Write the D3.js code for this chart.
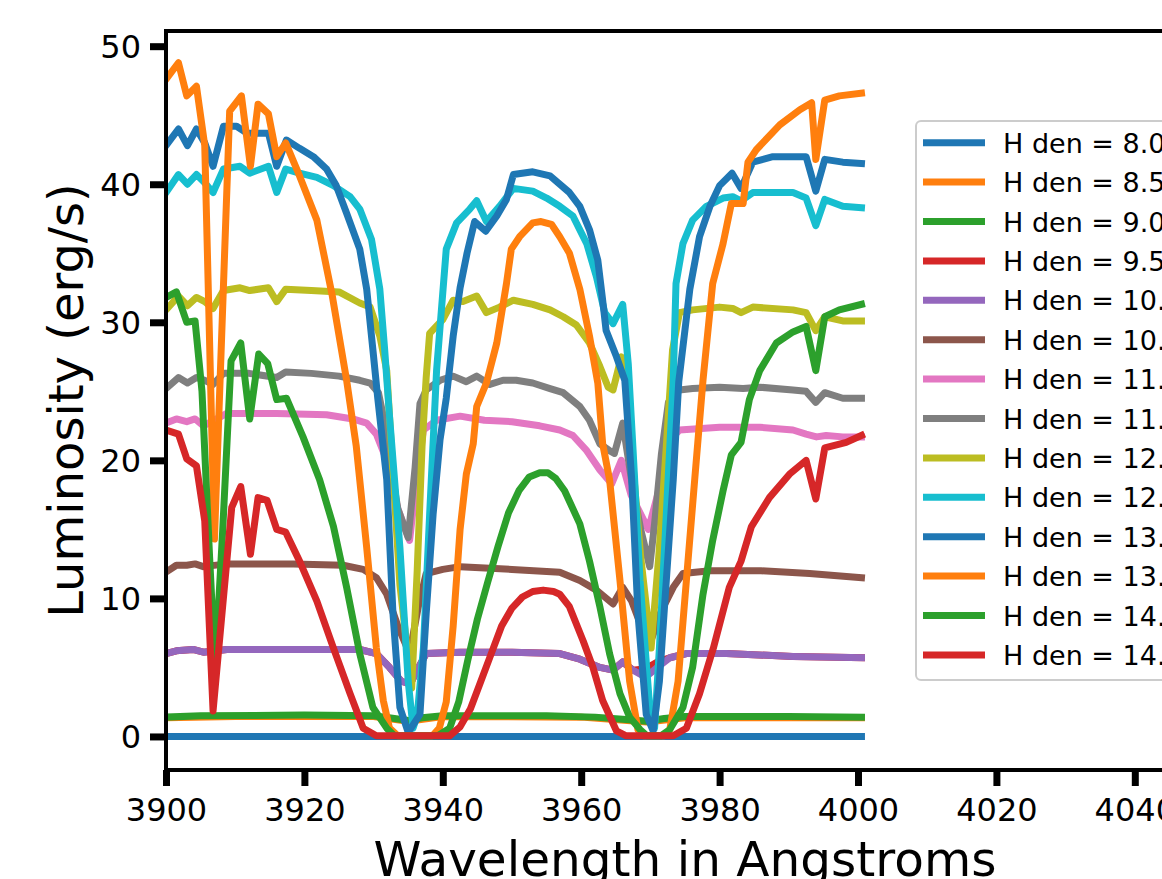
<!DOCTYPE html>
<html>
<head>
<meta charset="utf-8">
<script src="https://cdn.jsdelivr.net/npm/d3@7"></script>
<style>
  html,body{margin:0;padding:0;background:#fff;overflow:hidden;}
  svg{display:block;font-family:"DejaVu Sans",sans-serif;}
</style>
</head>
<body>
<svg id="chart" width="1162" height="879"></svg>
<script>
/*  Luminosity vs wavelength for a sweep of hydrogen densities (Ca H & K region).
    Each series: [wavelength (Å), luminosity (erg/s)].   */

/*────────── data ──────────*/
const densities = ["8.0","8.5","9.0","9.5","10.0","10.5","11.0","11.5","12.0","12.5","13.0","13.5","14.0","14.5"];

const hden80 = [[3900,0],[3950,0],[4000.5,0]];

const hden85 = [[3900,1.35],[3910,1.45],[3930,1.45],[3935,1.1],[3940,1.45],[3960,1.4],
  [3969.5,1.05],[3975,1.35],[4000.5,1.35]];

const hden90 = [[3900,1.4],[3905,1.5],[3920,1.55],[3930,1.5],[3933,1.3],[3935,1.15],[3937,1.35],
  [3940,1.5],[3955,1.5],[3962,1.4],[3966,1.25],[3969.5,1.1],[3972,1.3],[3975,1.45],[3990,1.45],[4000.5,1.4]];

const hden95 = [[3900,6.0],[3901.5,6.2],[3903.9,6.3],[3905.4,6.1],[3908.8,6.3],[3928,6.3],[3930.4,6.0],
  [3932.3,5.0],[3934,4.0],[3935.3,3.8],[3936.5,5.0],[3937.6,6.0],[3942.5,6.1],[3950,6.1],[3956.9,6.0],
  [3959.8,5.6],[3962.7,5.0],[3964.6,4.8],[3966,5.4],[3967.5,4.8],[3969.3,4.9],[3971,5.4],[3972.8,5.7],
  [3975.2,6.0],[3981,6.0],[3990.6,5.8],[4000.5,5.7]];

const hden100 = [[3900,6.0],[3901.5,6.2],[3903.9,6.3],[3905.4,6.1],[3908.8,6.3],[3928,6.3],[3930.4,6.0],
  [3932.3,5.0],[3934,4.0],[3935.3,3.8],[3936.5,5.0],[3937.6,6.0],[3942.5,6.1],[3950,6.1],[3956.9,6.0],
  [3959.8,5.6],[3962.7,5.0],[3964.6,4.8],[3966,5.4],[3967.5,4.8],[3969.3,4.3],[3971,5.0],[3972.8,5.7],
  [3975.2,6.0],[3981,6.0],[3990.6,5.8],[4000.5,5.7]];

const hden105 = [[3900,11.9],[3901.5,12.4],[3903,12.4],[3904.2,12.5],[3905.4,12.3],[3908.8,12.5],
  [3918.4,12.5],[3925.6,12.4],[3928.5,12.1],[3930.4,11.5],[3931.9,10.3],[3933.5,8.0],[3935.2,6.0],
  [3936.5,9.5],[3937.6,11.8],[3940,12.1],[3942.5,12.3],[3950,12.1],[3956.9,11.9],[3959.8,11.3],
  [3962.2,10.6],[3964.6,9.6],[3966,10.8],[3967.3,9.8],[3969.8,6.5],[3971.5,9.0],[3973.3,10.8],
  [3974.7,11.8],[3978.6,12.0],[3986,12.0],[3993,11.8],[4000.5,11.5]];

const hden110 = [[3900,22.7],[3901.5,23.0],[3903,22.8],[3904.2,23.0],[3905.4,22.5],[3908.8,23.4],
  [3916,23.4],[3923.2,23.3],[3927,23.0],[3929,22.7],[3930.4,21.9],[3931.9,20.0],[3933.5,16.5],
  [3935.2,14.2],[3936.2,18.6],[3937.2,22.2],[3939.1,22.9],[3942.5,23.2],[3946,22.9],[3950,22.8],
  [3954,22.5],[3956.9,22.2],[3958.8,21.8],[3960.8,20.7],[3962.7,19.3],[3964.4,18.3],[3965.8,20.0],
  [3967.2,17.5],[3969.7,15.0],[3971.2,17.8],[3972.5,21.3],[3974.2,22.2],[3980,22.4],[3985.8,22.4],
  [3990.6,22.2],[3992.5,21.9],[3994,21.7],[3995.4,21.8],[3997.8,21.7],[4000.5,21.7]];

const hden115 = [[3900,25.2],[3901.8,26.0],[3903.1,25.6],[3904.4,26.0],[3905.6,25.8],[3906.8,25.5],
  [3908.3,26.3],[3912,26.3],[3916,26.0],[3917.3,26.4],[3921,26.3],[3925,26.1],[3928,25.8],[3929.5,25.6],
  [3930.7,24.9],[3931.4,23.2],[3932.1,20.7],[3933.5,16.5],[3935,14.4],[3936,19.5],[3936.7,24.1],
  [3937.6,25.1],[3939.6,25.8],[3941.5,26.1],[3943.4,25.7],[3944.9,26.1],[3946.8,25.5],[3948.7,25.8],
  [3950.6,25.8],[3953,25.6],[3955.5,25.2],[3957.4,24.9],[3959.8,23.9],[3961.2,22.9],[3962.7,21.2],
  [3964.1,20.7],[3964.8,20.5],[3966,22.7],[3967.3,18.5],[3968.6,15.0],[3969.9,12.3],[3970.6,15.4],
  [3971.6,20.5],[3972.6,24.2],[3974.2,25.1],[3976.1,25.2],[3980,25.3],[3983.4,25.2],[3985.8,25.3],
  [3990.6,25.1],[3992.5,25.0],[3993.9,24.2],[3995.2,24.9],[3997.8,24.5],[4000.5,24.5]];

const hden120 = [[3900,30.9],[3901.8,31.9],[3903.1,31.2],[3904.4,31.8],[3905.6,31.5],[3906.8,31.0],
  [3908.3,32.3],[3910.7,32.5],[3912.1,32.3],[3914.8,32.5],[3916,31.5],[3917.3,32.4],[3921,32.3],
  [3925,32.2],[3928,31.4],[3929.5,31.1],[3930.9,29.0],[3931.9,26.5],[3932.6,20.7],[3933.8,11.0],
  [3935.5,3.5],[3936.3,12.0],[3937,21.0],[3937.6,26.0],[3938.1,29.2],[3940,30.2],[3941.5,31.6],
  [3942.9,31.5],[3944.9,31.9],[3946.3,30.7],[3948.2,31.1],[3950.2,31.6],[3953,31.3],[3955.5,30.9],
  [3957.4,30.4],[3959.3,29.8],[3961.2,28.5],[3962.7,26.8],[3963.9,25.3],[3964.6,25.1],[3965.8,27.5],
  [3966.5,25.6],[3967.3,20.7],[3968.6,13.0],[3970.1,6.4],[3971.2,13.0],[3972.3,21.0],[3973.2,28.0],
  [3974.2,30.7],[3976.1,30.9],[3980,31.1],[3981.9,31.0],[3983.1,30.7],[3984.8,31.1],[3990.6,30.9],
  [3992.5,30.7],[3993.9,29.4],[3995.2,30.4],[3997.8,30.1],[4000.5,30.1]];

const hden125 = [[3900,39.4],[3901.8,40.7],[3903.1,40.0],[3904.4,40.7],[3905.6,40.1],[3906.8,39.4],
  [3908.3,41.1],[3910.7,41.3],[3912.1,40.8],[3914.8,41.3],[3916,39.4],[3917.3,41.1],[3919.3,40.8],
  [3921.8,40.5],[3924.2,39.9],[3926.6,39.1],[3928,38.2],[3929.7,36.0],[3930.9,32.4],[3931.6,28.0],
  [3932.3,23.2],[3933.8,13.7],[3935,4.0],[3935.7,0.6],[3936.3,1.5],[3937.2,6.4],[3938.1,16.1],
  [3939.1,26.5],[3940.5,35.3],[3942,37.2],[3943.9,38.2],[3944.9,38.8],[3946.3,37.3],[3948.2,38.4],
  [3950.2,39.7],[3953,39.5],[3955,39.0],[3956.9,38.4],[3958.8,37.7],[3960.8,35.7],[3962.2,33.3],
  [3963.4,30.7],[3964.6,29.9],[3966,31.3],[3966.8,27.0],[3967.5,20.7],[3968.5,11.3],[3969.9,2.1],
  [3970.6,0.6],[3971.3,6.4],[3972.3,16.1],[3973.3,25.8],[3973.7,32.8],[3974.7,35.7],[3976.1,37.4],
  [3978.1,38.4],[3980.5,39.0],[3981.9,39.1],[3983.1,38.8],[3984.8,39.4],[3990.6,39.4],[3992.5,39.0],
  [3993.9,37.0],[3995.2,38.9],[3997.8,38.4],[4000.5,38.3]];

const hden130 = [[3900,42.8],[3901.8,44.0],[3903.1,42.8],[3904.4,44.0],[3905.6,43.0],[3906.8,41.3],
  [3908.3,44.2],[3910.2,44.2],[3911.7,43.7],[3914.8,43.7],[3916,41.3],[3917.4,43.2],[3919.3,42.6],
  [3921.3,42.0],[3923.2,41.1],[3924.6,39.9],[3926.1,37.9],[3928,35.3],[3929,32.4],[3929.9,28.0],
  [3930.6,24.5],[3931.9,18.6],[3932.8,8.9],[3933.8,2.1],[3935,0.3],[3936.7,1.6],[3937.6,8.9],
  [3938.6,16.1],[3939.6,21.5],[3940.5,24.5],[3941.5,29.0],[3942.5,32.5],[3943.5,35.0],[3944.6,37.3],
  [3946.2,36.6],[3947.8,37.7],[3949.2,38.9],[3950.2,40.7],[3953,40.9],[3955.5,40.6],[3958.3,39.4],
  [3959.8,38.4],[3961.2,36.7],[3962.4,34.5],[3963.1,31.6],[3963.6,29.4],[3965.1,27.5],[3966.3,25.8],
  [3967.3,18.6],[3968.2,8.9],[3969.4,1.6],[3970.4,0.4],[3971.3,4.0],[3972.3,11.3],[3973.3,18.6],
  [3974.1,25.7],[3975.7,32.4],[3977.1,36.2],[3978.6,38.4],[3980,39.9],[3981.8,40.8],[3983.1,39.7],
  [3984.8,41.6],[3987.7,42.0],[3992.5,42.0],[3993.9,39.5],[3995.2,41.8],[3997.8,41.6],[4000.5,41.5]];

const hden135 = [[3900,47.6],[3901.8,48.8],[3903,46.4],[3904.4,47.1],[3905.6,42.8],[3907,14.3],
  [3909.2,45.3],[3910.9,46.4],[3912.2,41.3],[3913.3,45.8],[3914.8,45.1],[3916,42.0],[3917.3,43.0],
  [3919.3,40.6],[3921.8,37.4],[3924,32.0],[3926.1,25.8],[3927.5,21.0],[3929,13.7],[3930.4,6.4],
  [3931.4,2.6],[3932.3,0.6],[3933.5,0.05],[3938.5,0.05],[3939.5,0.6],[3940.5,2.5],[3941.5,8.0],
  [3942.5,15.0],[3943.4,19.0],[3944.4,21.2],[3944.9,23.9],[3946.3,25.6],[3947.8,28.5],[3949.2,32.8],
  [3949.9,35.3],[3951.1,36.2],[3953,37.2],[3954.2,37.3],[3955.7,37.1],[3956.9,36.2],[3958.3,35.0],
  [3959.8,32.4],[3961.2,29.0],[3962.4,25.6],[3963.1,21.2],[3964.1,18.6],[3965.6,11.3],[3967,4.0],
  [3968.2,0.5],[3969,0.05],[3972,0.05],[3972.8,0.5],[3974,4.0],[3975.2,11.3],[3976.4,18.6],
  [3977.6,25.8],[3979,32.8],[3980.5,35.7],[3981.7,38.6],[3983.4,38.6],[3984.1,41.6],[3985.3,42.5],
  [3988.7,44.3],[3991.6,45.4],[3993.3,45.9],[3993.9,41.8],[3995.2,46.1],[3997.3,46.4],[4000.5,46.6]];

const hden140 = [[3900,31.8],[3901.5,32.2],[3903,30.0],[3904.2,30.1],[3905.2,25.0],[3906.3,13.0],
  [3907.1,5.0],[3908.2,15.0],[3909.4,27.2],[3910.8,28.5],[3912.1,23.0],[3913.4,27.7],[3914.7,27.0],
  [3916,24.4],[3917.4,24.5],[3919.8,21.7],[3922.2,18.6],[3924.2,15.2],[3926.1,10.8],[3928,6.0],
  [3929.9,2.1],[3931.9,0.6],[3933,0.05],[3939.3,0.05],[3941,0.6],[3942.3,2.5],[3943.6,5.5],
  [3945,8.5],[3946.5,11.2],[3948,13.8],[3949.5,16.2],[3951,17.8],[3952.5,18.8],[3954,19.1],
  [3955.2,19.1],[3956.3,18.7],[3957.6,17.8],[3959.8,15.4],[3961.2,12.7],[3962.7,9.4],[3964.1,6.0],
  [3965.6,3.1],[3967,1.4],[3968.5,0.5],[3969.5,0.05],[3971.5,0.05],[3972.8,0.5],[3974.7,2.1],
  [3976.1,5.0],[3977.6,10.3],[3979,14.2],[3980.5,17.8],[3981.7,20.4],[3983.1,21.3],[3984.3,24.4],
  [3985.8,26.5],[3988.2,28.5],[3990.6,29.3],[3992.5,29.7],[3993.9,26.5],[3995.2,30.4],[3997.3,30.9],
  [4000.5,31.3]];

const hden145 = [[3900,22.2],[3901.8,21.9],[3903,20.1],[3904.4,19.6],[3905.6,15.6],[3906.8,1.85],
  [3909.5,16.6],[3910.8,18.1],[3912.2,13.2],[3913.3,17.3],[3914.6,17.1],[3916,15.0],[3917.3,14.8],
  [3919.3,12.7],[3921.8,9.8],[3924.2,6.4],[3926.6,3.1],[3928.5,0.6],[3930.4,0.05],[3941,0.05],
  [3942.5,0.7],[3944,2.0],[3945.5,4.0],[3947,6.0],[3948.5,8.0],[3950,9.3],[3951.5,10.1],[3953,10.5],
  [3954.5,10.6],[3956,10.5],[3956.9,10.3],[3958.3,9.4],[3960.3,6.9],[3961.7,5.0],[3963.1,2.6],
  [3965.1,0.4],[3966.5,0.05],[3973.3,0.05],[3975.2,0.6],[3977.1,3.1],[3979.1,6.4],[3981.4,10.8],
  [3983.1,12.7],[3984.6,15.2],[3987.2,17.3],[3990.1,19.0],[3992.5,20.0],[3993.9,17.2],[3995.2,20.9],
  [3998.3,21.3],[4000.5,21.8]];

const series = [hden80,hden85,hden90,hden95,hden100,hden105,hden110,hden115,
                hden120,hden125,hden130,hden135,hden140,hden145];

const xTicks = [3900,3920,3940,3960,3980,4000,4020,4040];
const yTicks = [0,10,20,30,40,50];

/* matplotlib tab10 cycle */
const palette = ["#1f77b4","#ff7f0e","#2ca02c","#d62728","#9467bd",
                 "#8c564b","#e377c2","#7f7f7f","#bcbd22","#17becf"];

/*────────── layout ──────────*/
const svg = d3.select("#chart");
const plotL = 166, plotR = 1204, plotT = 31, plotB = 770;

const x = d3.scaleLinear().domain([3900, 4050]).range([plotL, plotR]);
const y = d3.scaleLinear().domain([-2.43, 51.1]).range([plotB, plotT]);

svg.append("rect").attr("width",1162).attr("height",879).attr("fill","#fff");

svg.append("defs").append("clipPath").attr("id","plot-clip")
  .append("rect").attr("x",plotL).attr("y",plotT).attr("width",plotR-plotL).attr("height",plotB-plotT);

/*────────── lines ──────────*/
const line = d3.line().x(d => x(d[0])).y(d => y(d[1]));

svg.append("g").attr("clip-path","url(#plot-clip)")
  .selectAll("path").data(series).enter().append("path")
  .attr("d", line)
  .attr("fill","none")
  .attr("stroke", (d,i) => palette[i % 10])
  .attr("stroke-width", 7)
  .attr("stroke-linejoin","round")
  .attr("stroke-linecap","square");

/*────────── axes ──────────*/
const xAxis = svg.append("g").attr("transform",`translate(0,${plotB})`)
  .call(d3.axisBottom(x).tickValues(xTicks).tickSize(16).tickPadding(12).tickFormat(d3.format("d")));
const yAxis = svg.append("g").attr("transform",`translate(${plotL},0)`)
  .call(d3.axisLeft(y).tickValues(yTicks).tickSize(16).tickPadding(9).tickFormat(d3.format("d")));

[xAxis, yAxis].forEach(g => {
  g.select(".domain").remove();
  g.selectAll(".tick line").attr("stroke","#000").attr("stroke-width",7);
  g.selectAll(".tick text").attr("fill","#000")
    .style("font-family","DejaVu Sans").style("font-size","32px");
});
yAxis.selectAll(".tick text").attr("dy","0.36em");

/* spines */
const spines = svg.append("g").attr("stroke","#000").attr("stroke-width",4).attr("stroke-linecap","square");
spines.append("line").attr("x1",plotL).attr("x2",plotL).attr("y1",plotT).attr("y2",plotB);
spines.append("line").attr("x1",plotR).attr("x2",plotR).attr("y1",plotT).attr("y2",plotB);
spines.append("line").attr("x1",plotL).attr("x2",plotR).attr("y1",plotT).attr("y2",plotT);
spines.append("line").attr("x1",plotL).attr("x2",plotR).attr("y1",plotB).attr("y2",plotB);

/* axis titles */
svg.append("text")
  .attr("x",(plotL+plotR)/2).attr("y",876)
  .attr("text-anchor","middle").style("font-size","48.5px")
  .text("Wavelength in Angstroms");

svg.append("text")
  .attr("transform",`translate(83,${(plotT+plotB)/2}) rotate(-90)`)
  .attr("text-anchor","middle").style("font-size","48px")
  .text("Luminosity (erg/s)");

/*────────── legend ──────────*/
const legend = svg.append("g");
legend.append("rect")
  .attr("x",916).attr("y",121).attr("width",330).attr("height",559)
  .attr("rx",5).attr("fill","#fff").attr("fill-opacity",0.8)
  .attr("stroke","#cccccc").attr("stroke-width",2);

const rowY = i => 142.7 + i*39.4;
const items = legend.selectAll("g.item").data(densities).enter().append("g").attr("class","item");
items.append("line")
  .attr("x1",923).attr("x2",985)
  .attr("y1",(d,i)=>rowY(i)).attr("y2",(d,i)=>rowY(i))
  .attr("stroke",(d,i)=>palette[i % 10]).attr("stroke-width",7);
items.append("text")
  .attr("x",1003).attr("y",(d,i)=>rowY(i)+10)
  .style("font-size","27px")
  .text(d => `H den = ${d}`);
</script>
</body>
</html>
